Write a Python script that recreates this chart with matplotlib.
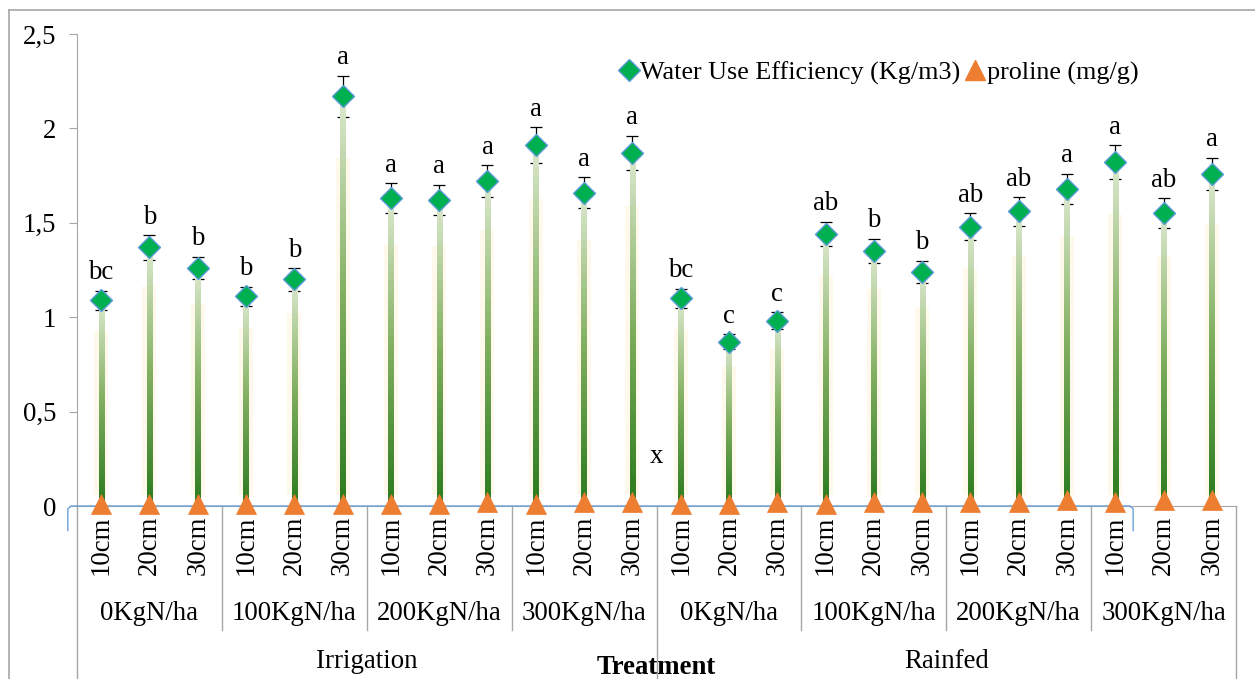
import numpy as np
import matplotlib
matplotlib.use('Agg')
import matplotlib.pyplot as plt
from matplotlib.lines import Line2D
import matplotlib.transforms as mtransforms
from matplotlib.colors import LinearSegmentedColormap

# ---------------- data ----------------
depths = ['10cm', '20cm', '30cm']
nitrogen = ['0KgN/ha', '100KgN/ha', '200KgN/ha', '300KgN/ha']
regimes = ['Irrigation', 'Rainfed']

wue = [1.09, 1.37, 1.26, 1.11, 1.20, 2.17, 1.63, 1.62, 1.72, 1.91, 1.66, 1.87,
       1.10, 0.87, 0.98, 1.44, 1.35, 1.24, 1.48, 1.56, 1.68, 1.82, 1.55, 1.76]
wue_err = [0.05, 0.065, 0.06, 0.05, 0.06, 0.11, 0.08, 0.08, 0.085, 0.095, 0.08, 0.09,
           0.05, 0.04, 0.045, 0.065, 0.065, 0.06, 0.07, 0.075, 0.08, 0.09, 0.08, 0.085]
proline = [0.01, 0.01, 0.01, 0.01, 0.01, 0.01, 0.01, 0.01, 0.02, 0.01, 0.02, 0.02,
           0.01, 0.01, 0.02, 0.01, 0.02, 0.02, 0.02, 0.02, 0.03, 0.02, 0.03, 0.03]
letters = ['bc', 'b', 'b', 'b', 'b', 'a', 'a', 'a', 'a', 'a', 'a', 'a',
           'bc', 'c', 'c', 'ab', 'b', 'b', 'ab', 'ab', 'a', 'a', 'ab', 'a']
yticks = [0, 0.5, 1, 1.5, 2, 2.5]
ytick_labels = ['0', '0,5', '1', '1,5', '2', '2,5']

# ---------------- style ----------------
plt.rcParams['font.family'] = ['Liberation Serif', 'DejaVu Serif']
FS = 19.3
GREY = '#A6A6A6'
W, H = 1255, 679
fig = plt.figure(figsize=(W / 100, H / 100), dpi=100)
ax = fig.add_axes([77 / W, 1 - 506 / H, (1236 - 77) / W, (506 - 34) / H])

n = len(wue)
x = np.arange(n) + 0.5

cmap = LinearSegmentedColormap.from_list('stem', ['#2A7A1E', '#7FAE5E', '#DDE9CF'])
grad = np.linspace(0, 1, 256).reshape(-1, 1)
half_w = 2.6 / 48.3  # stem half width in category units (~5 px wide)

for xi, v in zip(x, wue):
    # faint yellow glow beside the stem
    ax.plot([xi, xi], [0.06, 0.85 * v], color='#FFF2D6', lw=10, alpha=0.45,
            solid_capstyle='butt', zorder=1)
    ax.imshow(grad, cmap=cmap, origin='lower', aspect='auto',
              extent=[xi - half_w, xi + half_w, 0, v], interpolation='bilinear',
              zorder=3)

ax.set_xlim(0, n)
ax.set_ylim(0, 2.5)

ax.errorbar(x, wue, yerr=wue_err, fmt='none', ecolor='black', elinewidth=0.9,
            capsize=4.3, capthick=0.9, zorder=2)
ax.plot(x, wue, ls='none', marker='D', ms=11.5, mfc='#00B050', mec='#5B9BD5',
        mew=1, zorder=5)
ax.plot(x, proline, ls='none', marker='^', ms=14, mfc='#ED7D31', mec='#ED7D31',
        mew=0.5, zorder=6, clip_on=False)

for xi, v, e, lab in zip(x, wue, wue_err, letters):
    ax.annotate(lab, (xi, v + e), xytext=(0, 4), textcoords='offset points',
                ha='center', va='bottom', fontsize=FS, zorder=7)

ax.text(12, 0.26, 'x', ha='center', va='center', fontsize=FS)

# axes styling
for s in ['top', 'right']:
    ax.spines[s].set_visible(False)
ax.spines['left'].set_color(GREY)
ax.spines['bottom'].set_color(GREY)
ax.set_yticks(yticks)
ax.set_yticklabels(ytick_labels)
ax.tick_params(axis='y', direction='out', length=6, color=GREY, labelsize=FS, pad=9)
ax.set_xticks(x)
ax.set_xticklabels(depths * (len(nitrogen) * len(regimes)), rotation=90, va='top')
ax.tick_params(axis='x', length=0, labelsize=FS, pad=7)

# hierarchical labels
tr = mtransforms.blended_transform_factory(ax.transData, fig.transFigure)
y0 = 1 - 506 / H
for gi in range(len(nitrogen) * len(regimes)):
    ax.text(gi * 3 + 1.5, 1 - 613 / H, nitrogen[gi % len(nitrogen)], transform=tr,
            ha='center', va='center', fontsize=FS, clip_on=False)
for ri, r in enumerate(regimes):
    ax.text(ri * 12 + 6, 1 - 662 / H, r, transform=tr, ha='center', va='center',
            fontsize=FS, clip_on=False)
ax.text(12, 1 - 667 / H, 'Treatment', transform=tr, ha='center', va='center',
        fontsize=FS, fontweight='bold', clip_on=False)

for b in range(0, n + 1, 3):
    if b in (0, 12, 24):
        ybot = 0
    else:
        ybot = 1 - 630 / H
    ax.add_line(Line2D([b, b], [y0, ybot], transform=tr, color=GREY, lw=1,
                       clip_on=False))

# blue overlay line on the category axis
ax.plot([-0.19, -0.19, -0.12, 21.80, 21.87, 21.87],
        [-0.13, -0.015, 0, 0, -0.015, -0.13], color='#6A9FD8', lw=1,
        clip_on=False, zorder=4)

# outer chart frame
fig.add_artist(Line2D([9 / W, 9 / W], [0, 1 - 10 / H], color=GREY, lw=1.2))
fig.add_artist(Line2D([9 / W, 1], [1 - 10 / H, 1 - 10 / H], color=GREY, lw=1.2))

# legend
handles = [Line2D([], [], ls='none', marker='D', ms=11.5, mfc='#00B050', mec='#5B9BD5'),
           Line2D([], [], ls='none', marker='^', ms=14, mfc='#ED7D31', mec='#ED7D31')]
fig.legend(handles, ['Water Use Efficiency (Kg/m3)', 'proline (mg/g)'], ncol=2,
           loc='center', bbox_to_anchor=(879 / W, 1 - 73 / H), frameon=False,
           fontsize=18.8, handlelength=0.7, handletextpad=0.1,
           columnspacing=0.2, borderpad=0)

fig.savefig('out.png', dpi=100)
